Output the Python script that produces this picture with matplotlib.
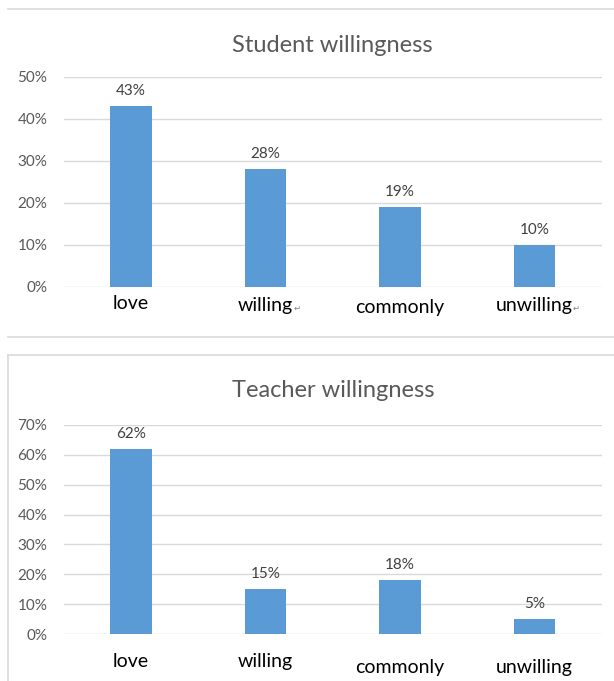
import matplotlib.pyplot as plt
from matplotlib.lines import Line2D
from matplotlib.ticker import PercentFormatter

# Survey results (percent)
categories = ['love', 'willing', 'commonly', 'unwilling']
student_values = [43, 28, 19, 10]
teacher_values = [62, 15, 18, 5]

BAR_COLOR = '#5b9bd5'
GRID_COLOR = '#d9d9d9'
TEXT_COLOR = '#595959'
FONT = 'Lato'

plt.rcParams['font.family'] = [FONT, 'DejaVu Sans']

fig = plt.figure(figsize=(6.14, 6.81), dpi=100)


def draw_panel(ax, values, title, ymax, label_offsets, marks, title_pad):
    x = range(len(categories))
    ax.bar(x, values, width=0.31, color=BAR_COLOR, zorder=3)
    ax.set_xlim(-0.5, len(categories) - 0.5)
    ax.set_ylim(0, ymax)
    ax.set_yticks(range(0, ymax + 1, 10))
    ax.yaxis.set_major_formatter(PercentFormatter(decimals=0))
    ax.grid(axis='y', color=GRID_COLOR, linewidth=1, zorder=0)
    for s in ax.spines.values():
        s.set_visible(False)
    ax.tick_params(axis='y', length=0, pad=12, labelsize=11, labelcolor=TEXT_COLOR)
    ax.set_xticks([])
    ax.set_title(title, fontsize=17, color=TEXT_COLOR, pad=title_pad)
    for i, v in enumerate(values):
        ax.annotate(f'{v}%', (i, v), xytext=(0, 6), textcoords='offset points',
                    ha='center', va='bottom', fontsize=11, color='#404040')
    # category labels sit below the axis at slightly uneven heights
    for i, (name, dy, mark) in enumerate(zip(categories, label_offsets, marks)):
        t = ax.annotate(name, (i, 0), xytext=(0, -dy), textcoords='offset points',
                        ha='center', va='center', fontsize=14, color='black')
        if mark:
            ax.annotate('\u21b5', (1, 0.3), xycoords=t, ha='left', va='center',
                        fontsize=6, color='#808080', family='DejaVu Sans')


ax1 = fig.add_axes([0.104, 0.5786, 0.876, 0.3084])
draw_panel(ax1, student_values, 'Student willingness', 50,
           [12, 13, 15, 13], [False, True, False, True], 18)

ax2 = fig.add_axes([0.104, 0.069, 0.876, 0.307])
draw_panel(ax2, teacher_values, 'Teacher willingness', 70,
           [20, 20, 24, 24], [False, False, False, False], 20)

# chart frames
frame = dict(color=GRID_COLOR, linewidth=1.2, transform=fig.transFigure)
fig.add_artist(Line2D([8 / 614, 1], [1 - 9 / 681, 1 - 9 / 681], **frame))
fig.add_artist(Line2D([8 / 614, 1], [1 - 337 / 681, 1 - 337 / 681], **frame))
fig.add_artist(Line2D([8 / 614, 1], [1 - 355 / 681, 1 - 355 / 681], **frame))
fig.add_artist(Line2D([8 / 614, 8 / 614], [0, 1 - 355 / 681], **frame))

fig.savefig('out.png', dpi=100)
